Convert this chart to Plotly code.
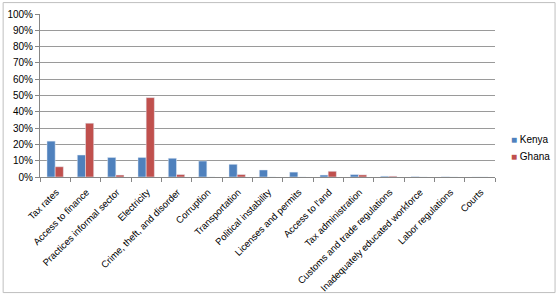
import plotly.graph_objects as go

categories = ["Tax rates", "Access to finance", "Practices informal sector", "Electricity",
              "Crime, theft, and disorder", "Corruption", "Transportation", "Political instability",
              "Licenses and permits", "Access to l'and", "Tax administration",
              "Customs and trade regulations", "Inadequately educated workforce",
              "Labor regulations", "Courts"]
kenya = [0.22, 0.135, 0.12, 0.12, 0.115, 0.098, 0.078, 0.043, 0.03, 0.012, 0.015, 0.005, 0.002, 0.001, 0.0]
ghana = [0.063, 0.33, 0.012, 0.487, 0.015, 0.0, 0.015, 0.0, 0.0, 0.035, 0.013, 0.005, 0.0, 0.0, 0.0]
yticks = [i / 10 for i in range(11)]
series = [("Kenya", kenya, "#4F81BD"), ("Ghana", ghana, "#C0504D")]

fig = go.Figure()
for name, vals, col in series:
    fig.add_bar(x=categories, y=vals, name=name, marker_color=col, showlegend=False)

legend_ann = []
for i, (name, vals, col) in enumerate(series):
    legend_ann.append(dict(
        xref="paper", yref="paper", x=1.03, y=0.23 - i * 0.105, xanchor="left", yanchor="middle",
        showarrow=False, font=dict(size=10, color="#000000"),
        text=f"<span style='color:{col}'>■</span> {name}"))

fig.update_layout(
    width=558, height=297,
    margin=dict(l=40, r=63, t=14, b=120, autoexpand=False),
    plot_bgcolor="white", paper_bgcolor="white",
    barmode="group", bargap=0.46, bargroupgap=0,
    font=dict(family="Liberation Sans", size=10, color="#000000"),
    showlegend=False,
    annotations=legend_ann,
    shapes=[dict(type="rect", xref="paper", yref="paper", x0=-0.081, x1=1.132, y0=-0.709, y1=1.07,
                 line=dict(color="#BFBFBF", width=1))],
)
fig.update_xaxes(tickangle=-45, showline=True, linecolor="#868686", ticks="outside",
                 tickcolor="#868686", ticklen=4, tickson="boundaries", tickfont=dict(size=9.5),
                 ticklabelshift=1, ticklabelstandoff=5)
fig.update_yaxes(range=[0, 1], tickvals=yticks, tickformat=".0%", showgrid=True,
                 gridcolor="#9A9A9A", gridwidth=1, showline=True, linecolor="#868686",
                 ticks="outside", tickcolor="#868686", ticklen=4, zeroline=False,
                 tickfont=dict(size=10))

fig.write_html("out.html", config={"displayModeBar": False},
               post_script="document.body.style.margin='0';")
